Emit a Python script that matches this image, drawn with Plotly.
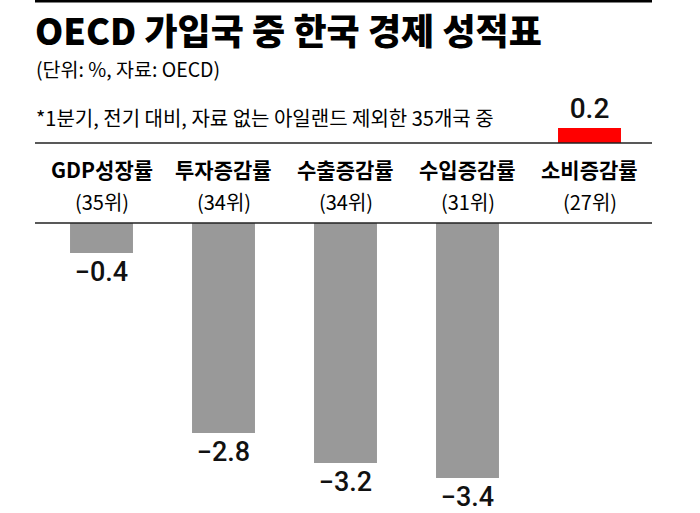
import plotly.graph_objects as go

# ---- data ----
categories = ["GDP성장률", "투자증감률", "수출증감률", "수입증감률", "소비증감률"]
ranks = ["(35위)", "(34위)", "(34위)", "(31위)", "(27위)"]
values = [-0.4, -2.8, -3.2, -3.4, 0.2]

title_text = "OECD 가입국 중 한국 경제 성적표"
unit_text = "(단위: %, 자료: OECD)"
note_text = "*1분기, 전기 대비, 자료 없는 아일랜드 제외한 35개국 중"

FONT = "Noto Sans CJK KR"
NUMFONT = "Roboto, sans-serif"
W, H = 700, 513
PX_PER_UNIT = 75.0

def py(px):
    """pixel row -> paper y"""
    return 1 - px / H

def pxx(px):
    return px / W

def fmt(v):
    return ("\u2212" if v < 0 else "") + f"{abs(v):.1f}"

neg_vals = [v if v < 0 else None for v in values]
pos_vals = [v if v > 0 else None for v in values]
neg_text = [fmt(v) if v < 0 else "" for v in values]
pos_text = [fmt(v) if v > 0 else "" for v in values]

fig = go.Figure()
fig.add_trace(go.Bar(
    x=categories, y=neg_vals, yaxis="y", text=neg_text,
    marker=dict(color="#999999", line=dict(width=0)),
    textposition="outside", cliponaxis=False,
    textfont=dict(family=NUMFONT, size=27, color="#111111", weight=500),
    showlegend=False, hoverinfo="skip",
))
fig.add_trace(go.Bar(
    x=categories, y=pos_vals, yaxis="y2", text=pos_text,
    marker=dict(color="#ff0000", line=dict(width=0)),
    textposition="outside", cliponaxis=False,
    textfont=dict(family=NUMFONT, size=28, color="#111111", weight=500),
    showlegend=False, hoverinfo="skip",
))

x_left, x_right = 40.5, 650.5
neg_top_px = 223
pos_base_px = 143
pos_top_px = 103

annotations = [
    dict(text=title_text, x=pxx(33), y=py(29), xref="paper", yref="paper",
         xanchor="left", yanchor="middle", showarrow=False,
         font=dict(family=FONT, size=36, color="black", weight=900)),
    dict(text=unit_text, x=pxx(34), y=py(68), xref="paper", yref="paper",
         xanchor="left", yanchor="middle", showarrow=False,
         font=dict(family=FONT, size=19.5, color="black")),
    dict(text=note_text, x=pxx(34), y=py(117), xref="paper", yref="paper",
         xanchor="left", yanchor="middle", showarrow=False,
         font=dict(family=FONT, size=20, color="black")),
]
for c, r in zip(categories, ranks):
    annotations.append(dict(text=c, x=c, y=py(169), xref="x", yref="paper",
                            xanchor="center", yanchor="middle", showarrow=False,
                            font=dict(family=FONT, size=21, color="black", weight=700)))
    annotations.append(dict(text=r, x=c, y=py(201), xref="x", yref="paper",
                            xanchor="center", yanchor="middle", showarrow=False,
                            font=dict(family=FONT, size=20, color="black")))

shapes = [
    dict(type="line", xref="paper", yref="paper", x0=pxx(35), x1=pxx(652),
         y0=py(1), y1=py(1), line=dict(color="black", width=3)),
    dict(type="line", xref="paper", yref="paper", x0=pxx(35), x1=pxx(652),
         y0=py(pos_base_px), y1=py(pos_base_px), line=dict(color="#222222", width=1.5)),
    dict(type="line", xref="paper", yref="paper", x0=pxx(35), x1=pxx(652),
         y0=py(neg_top_px), y1=py(neg_top_px), line=dict(color="#222222", width=1.5)),
]

fig.update_layout(
    width=W, height=H,
    margin=dict(l=0, r=0, t=0, b=0),
    paper_bgcolor="white", plot_bgcolor="rgba(0,0,0,0)",
    bargap=0.484,
    xaxis=dict(domain=[pxx(x_left), pxx(x_right)], range=[-0.5, 4.5],
               showticklabels=False, showgrid=False, zeroline=False,
               showline=False, ticks="", fixedrange=True),
    yaxis=dict(domain=[0, py(neg_top_px)],
               range=[-(H - neg_top_px) / PX_PER_UNIT, 0],
               showticklabels=False, showgrid=False, zeroline=False,
               showline=False, ticks=""),
    yaxis2=dict(domain=[py(pos_base_px), py(pos_top_px)],
                range=[0, (pos_base_px - pos_top_px) / PX_PER_UNIT],
                anchor="x", showticklabels=False, showgrid=False,
                zeroline=False, showline=False, ticks=""),
    annotations=annotations,
    shapes=shapes,
)

fig.write_html("out.html")
